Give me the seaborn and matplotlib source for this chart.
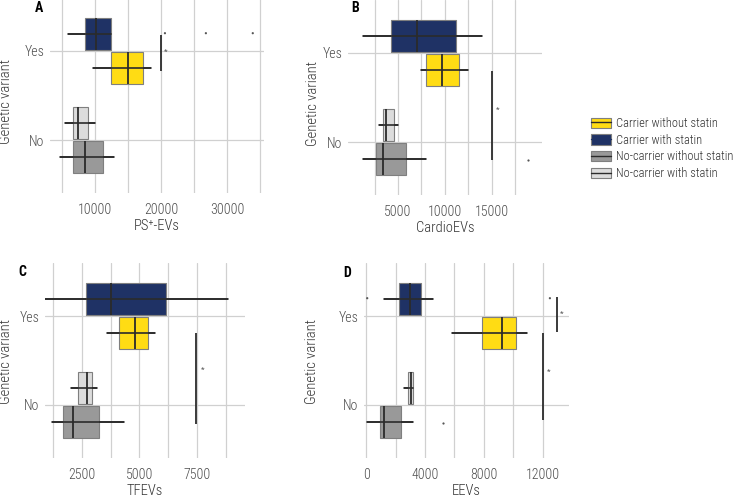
import pandas as pd
import matplotlib
matplotlib.use("Agg")
import matplotlib.pyplot as plt
import matplotlib.patches as mpatches
from matplotlib.lines import Line2D
import seaborn as sns

# ============================================================================
# DATA  (five-number summaries: min, q1, median, q3, max)
# ============================================================================

variants = ['Yes', 'No']
statin_levels = ['with statin', 'without statin']
group_labels = ['Carrier without statin', 'Carrier with statin',
                'No-carrier without statin', 'No-carrier with statin']

# PS+-EVs
ps_carrier_with = [5900, 8500, 10150, 12400, 12400]
ps_carrier_without = [9700, 12400, 15000, 17300, 18500]
ps_nocarrier_with = [5450, 6650, 7400, 8950, 10000]
ps_nocarrier_without = [4700, 6650, 8500, 11200, 12900]
ps_outliers_carrier_with = [20600, 26800, 33900]

# CardioEVs
cardio_carrier_with = [1250, 4250, 7000, 11200, 14000]
cardio_carrier_without = [7450, 8000, 9700, 11500, 12500]
cardio_nocarrier_with = [2950, 3400, 3700, 4550, 5000]
cardio_nocarrier_without = [1250, 2650, 3400, 5850, 8000]
cardio_outliers_nocarrier_without = [18900]

# TFEVs
tf_carrier_with = [760, 2670, 3760, 6150, 8850]
tf_carrier_without = [3590, 4110, 4800, 5370, 5670]
tf_nocarrier_with = [2020, 2330, 2720, 2930, 3150]
tf_nocarrier_without = [1200, 1670, 2110, 3240, 4330]

# EEVs
eev_carrier_with = [1220, 2240, 3000, 3740, 4560]
eev_carrier_without = [5850, 7890, 9250, 10200, 10950]
eev_nocarrier_with = [2580, 2860, 3060, 3200, 3200]
eev_nocarrier_without = [70, 950, 1220, 2380, 3200]
eev_outliers_carrier_with = [70, 12500]
eev_outliers_nocarrier_without = [5240]

# ============================================================================
# STYLE
# ============================================================================

sns.set_theme(style='white')
plt.rcParams['font.family'] = ['Roboto Condensed', 'Liberation Sans Narrow', 'DejaVu Sans']
plt.rcParams['font.stretch'] = 'condensed'

navy = '#1F3265'
yellow = '#FFDC14'
gray = '#999999'
light = '#DCDCDC'
dark = '#2B2B2B'
grid_col = '#D0D0D0'


def make_df(carrier_with, carrier_without, nocarrier_with, nocarrier_without):
    rows = []
    for vals, var, st in [(carrier_with, 'Yes', 'with statin'),
                          (carrier_without, 'Yes', 'without statin'),
                          (nocarrier_with, 'No', 'with statin'),
                          (nocarrier_without, 'No', 'without statin')]:
        for v in vals:
            rows.append({'variant': var, 'statin': st, 'value': v})
    return pd.DataFrame(rows)


def make_outliers(items):
    rows = []
    for vals, var, st in items:
        for v in vals:
            rows.append({'variant': var, 'statin': st, 'value': v})
    return pd.DataFrame(rows)


panels = [
    dict(tag='A', xlabel='PS\u207a-EVs',
         df=make_df(ps_carrier_with, ps_carrier_without, ps_nocarrier_with, ps_nocarrier_without),
         out=make_outliers([(ps_outliers_carrier_with, 'Yes', 'with statin')]),
         xlim=(3200, 35600), major=[10000, 20000, 30000], minor=[5000, 15000, 25000, 35000],
         sig=[(20000, -0.18, 0.22, 20750, 0.01)],
         box_px=(50, -2.4, 264, 193.4), tag_px=(39, 8), ylab_px=(6, 102)),
    dict(tag='B', xlabel='CardioEVs',
         df=make_df(cardio_carrier_with, cardio_carrier_without, cardio_nocarrier_with, cardio_nocarrier_without),
         out=make_outliers([(cardio_outliers_nocarrier_without, 'No', 'without statin')]),
         xlim=(-350, 20400), major=[5000, 10000, 15000], minor=[2500, 7500, 12500, 17500],
         sig=[(15000, 0.2, 1.2, 15700, 0.64)],
         box_px=(348, -0.4, 542, 195.4), tag_px=(355, 8), ylab_px=(313, 104)),
    dict(tag='C', xlabel='TFEVs',
         df=make_df(tf_carrier_with, tf_carrier_without, tf_nocarrier_with, tf_nocarrier_without),
         out=None,
         xlim=(890, 9590), major=[2500, 5000, 7500], minor=[1250, 3750, 6250, 8750],
         sig=[(7450, 0.19, 1.21, 7760, 0.61)],
         box_px=(45, 262.6, 245, 458.4), tag_px=(22, 272), ylab_px=(6, 362)),
    dict(tag='D', xlabel='EEVs',
         df=make_df(eev_carrier_with, eev_carrier_without, eev_nocarrier_with, eev_nocarrier_without),
         out=make_outliers([(eev_outliers_carrier_with, 'Yes', 'with statin'),
                            (eev_outliers_nocarrier_without, 'No', 'without statin')]),
         xlim=(-150, 13800), major=[0, 4000, 8000, 12000], minor=[2000, 6000, 10000],
         sig=[(13000, -0.21, 0.18, 13330, -0.02), (12000, 0.19, 1.17, 12440, 0.63)],
         box_px=(364, 262.6, 569, 458.4), tag_px=(347, 273), ylab_px=(312, 362)),
]

W, H = 733, 496
fig = plt.figure(figsize=(W / 100, H / 100), dpi=100)

box_kws = dict(x='value', y='variant', hue='statin', order=variants, hue_order=statin_levels,
               orient='h', width=0.76, gap=0.05, whis=(0, 100), showcaps=False,
               showfliers=False, legend=False, linewidth=0.8, saturation=1,
               boxprops={'edgecolor': '#7F7F7F'},
               medianprops={'color': dark, 'linewidth': 1.3},
               whiskerprops={'color': dark, 'linewidth': 1.2})

for p in panels:
    l, t, r, b = p['box_px']
    ax = fig.add_axes([l / W, 1 - b / H, (r - l) / W, (b - t) / H])
    df = p['df']
    carriers = df[df['variant'] == 'Yes']
    noncarriers = df[df['variant'] == 'No']

    sns.boxplot(data=carriers, palette={'with statin': navy, 'without statin': yellow}, ax=ax, **box_kws)
    sns.boxplot(data=noncarriers, palette={'with statin': light, 'without statin': gray}, ax=ax, **box_kws)

    # min-to-max range line through each box
    sns.pointplot(data=df, x='value', y='variant', hue='statin', order=variants,
                  hue_order=statin_levels, orient='h', estimator='median',
                  errorbar=('pi', 100), dodge=0.38, palette={s: dark for s in statin_levels},
                  linestyles='none', markersize=0, err_kws={'linewidth': 1.2},
                  legend=False, ax=ax)

    if p['out'] is not None:
        sns.stripplot(data=p['out'], x='value', y='variant', hue='statin', order=variants,
                      hue_order=statin_levels, orient='h', dodge=True, jitter=False,
                      palette={s: '#555555' for s in statin_levels}, size=1.6,
                      legend=False, ax=ax)

    # significance bars
    for x, y0, y1, xs, ys in p['sig']:
        ax.plot([x, x], [y0, y1], color=dark, lw=1.3, solid_capstyle='butt')
        ax.text(xs, ys, '*', ha='center', va='center', fontsize=6, color='#555555')

    ax.set_xlim(*p['xlim'])
    ax.set_ylim(1.6, -0.6)
    ax.set_xticks(p['major'])
    ax.set_xticks(p['minor'], minor=True)
    ax.set_xticklabels([str(v) for v in p['major']], fontweight='light')
    ax.set_yticks([0, 1])
    ax.set_yticklabels(variants, fontweight='light')
    ax.set_axisbelow(True)
    ax.grid(which='both', axis='x', color=grid_col, lw=0.9)
    ax.grid(which='major', axis='y', color=grid_col, lw=0.9)
    ax.tick_params(axis='both', which='both', length=0, labelsize=10, labelcolor='#4D4D4D')
    ax.tick_params(axis='x', pad=7)
    ax.tick_params(axis='y', pad=4)
    for s in ax.spines.values():
        s.set_visible(False)
    ax.set_ylabel('')
    ax.set_xlabel(p['xlabel'], fontsize=10.5, color='#333333', labelpad=1, fontweight='light')

    fig.text(p['tag_px'][0] / W, 1 - p['tag_px'][1] / H, p['tag'], fontsize=10,
             fontweight='bold', ha='center', va='center', color='black')
    fig.text(p['ylab_px'][0] / W, 1 - p['ylab_px'][1] / H, 'Genetic variant', rotation=90,
             fontsize=10.5, ha='center', va='center', color='#333333', fontweight='light')

# legend
legend_colors = [yellow, navy, gray, light]
handles = [(mpatches.Patch(facecolor=c, edgecolor='#7F7F7F', linewidth=0.8),
            Line2D([], [], color=dark if c != navy else navy, lw=1))
           for c in legend_colors]
fig.legend(handles, group_labels, loc='upper left', bbox_to_anchor=(591 / W, 1 - 117 / H),
           frameon=False, prop={'size': 9, 'weight': 'light'}, handlelength=1.6,
           handleheight=0.9, handletextpad=0.4, labelspacing=0.3, borderpad=0,
           borderaxespad=0, labelcolor='#333333')

plt.savefig('out.png', dpi=100)
